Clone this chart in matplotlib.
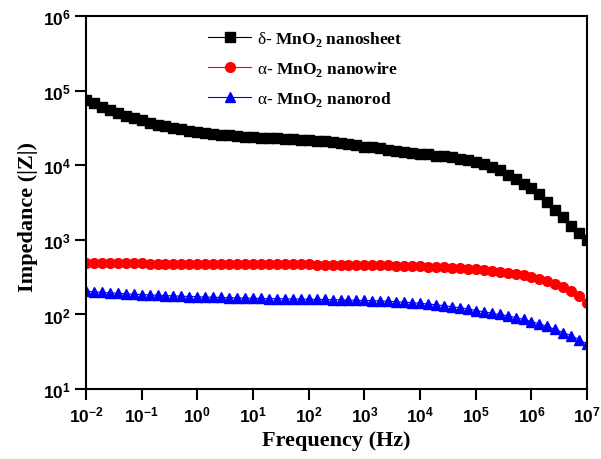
import numpy as np
import matplotlib
matplotlib.use("Agg")
import matplotlib.pyplot as plt

# frequency sweep, 7 points per decade (Hz)
freq = [0.01, 0.0139, 0.0193, 0.0268, 0.0373, 0.0518, 0.0720,
        0.1, 0.139, 0.193, 0.268, 0.373, 0.518, 0.720,
        1, 1.39, 1.93, 2.68, 3.73, 5.18, 7.20,
        10, 13.9, 19.3, 26.8, 37.3, 51.8, 72.0,
        100, 139, 193, 268, 373, 518, 720,
        1e3, 1.39e3, 1.93e3, 2.68e3, 3.73e3, 5.18e3, 7.20e3,
        1e4, 1.39e4, 1.93e4, 2.68e4, 3.73e4, 5.18e4, 7.20e4,
        1e5, 1.39e5, 1.93e5, 2.68e5, 3.73e5, 5.18e5, 7.20e5,
        1e6, 1.39e6, 1.93e6, 2.68e6, 3.73e6, 5.18e6, 7.20e6,
        1e7]

# |Z| in ohm
z_nanosheet = [76000, 67600, 60300, 55000, 50100, 46200, 42700,
               39800, 37200, 35100, 33100, 31600, 30200, 29200,
               28200, 27200, 26300, 25700, 25100, 24500, 24000,
               23700, 23400, 23200, 22900, 22600, 22400, 22100,
               21900, 21400, 20900, 20400, 20000, 19500, 18600,
               17800, 17400, 16800, 16200, 15500, 15100, 14600,
               14300, 14000, 13500, 13200, 12700, 12300, 11900,
               11200, 10500, 9330, 8510, 7410, 6460, 5620,
               4900, 4070, 3240, 2510, 2000, 1550, 1230,
               1000]

z_nanowire = [490, 489, 488, 487, 486, 485, 484,
              483, 482, 481, 480, 479, 478, 477,
              476, 475, 475, 474, 474, 473, 473,
              472, 472, 471, 471, 470, 470, 469,
              468, 467, 466, 465, 464, 463, 462,
              461, 459, 457, 455, 453, 450, 447,
              443, 439, 434, 429, 423, 417, 410,
              402, 394, 385, 375, 364, 350, 335,
              318, 300, 279, 257, 233, 208, 175,
              142]

z_nanorod = [205, 201, 198, 195, 192, 189, 187,
             185, 183, 181, 179, 177, 176, 174,
             173, 171, 170, 169, 168, 167, 166,
             165, 164, 163, 163, 162, 161, 161,
             160, 159, 159, 158, 157, 156, 155,
             154, 153, 152, 150, 148, 146, 144,
             141, 138, 135, 131, 127, 123, 119,
             113, 109, 104, 100, 96, 91, 86,
             80, 75, 69, 63, 57, 52, 46,
             40]

labels = [r"$\mathrm{\delta}$- MnO$_\mathregular{2}$ nanosheet",
          r"$\mathrm{\alpha}$- MnO$_\mathregular{2}$ nanowire",
          r"$\mathrm{\alpha}$- MnO$_\mathregular{2}$ nanorod"]

plt.rcParams['mathtext.fontset'] = 'custom'
plt.rcParams['mathtext.rm'] = 'Liberation Serif'
plt.rcParams['font.family'] = ['Liberation Sans', 'DejaVu Sans']

fig = plt.figure(figsize=(6.01, 4.60), dpi=100)
ax = fig.add_axes([0.143, 0.152, 0.834, 0.811])

ax.plot(freq, z_nanosheet, '-s', color='black', ms=6.5, lw=0.8, label=labels[0])
ax.plot(freq, z_nanowire, '-o', color='red', ms=7, lw=0.8, label=labels[1])
ax.plot(freq, z_nanorod, '-^', color='blue', ms=7, lw=0.8, label=labels[2])

ax.set_xscale('log')
ax.set_yscale('log')
ax.set_xlim(1e-2, 1e7)
ax.set_ylim(1e1, 1e6)
ax.set_xticks([10.0 ** e for e in range(-2, 8)])
ax.set_yticks([10.0 ** e for e in range(1, 7)])
ax.minorticks_off()

for sp in ax.spines.values():
    sp.set_linewidth(1.5)
ax.tick_params(which='major', direction='out', length=8, width=1.5,
               labelsize=12.5, pad=3, top=False, right=False)
for lbl in ax.get_xticklabels() + ax.get_yticklabels():
    lbl.set_fontweight('bold')

ax.set_xlabel('Frequency (Hz)', family='Liberation Serif', weight='bold', fontsize=16)
ax.set_ylabel('Impedance (|Z|)', family='Liberation Serif', weight='bold', fontsize=16)
ax.yaxis.set_label_coords(-0.096, 0.465)

leg = ax.legend(loc='upper left', bbox_to_anchor=(0.346, 0.935),
                bbox_transform=fig.transFigure, frameon=False,
                borderpad=0, borderaxespad=0, numpoints=1,
                handlelength=2.5, handletextpad=0.3, labelspacing=0.65,
                prop={'family': 'Liberation Serif', 'weight': 'bold', 'size': 12.5})

fig.savefig('out.png', dpi=100)
